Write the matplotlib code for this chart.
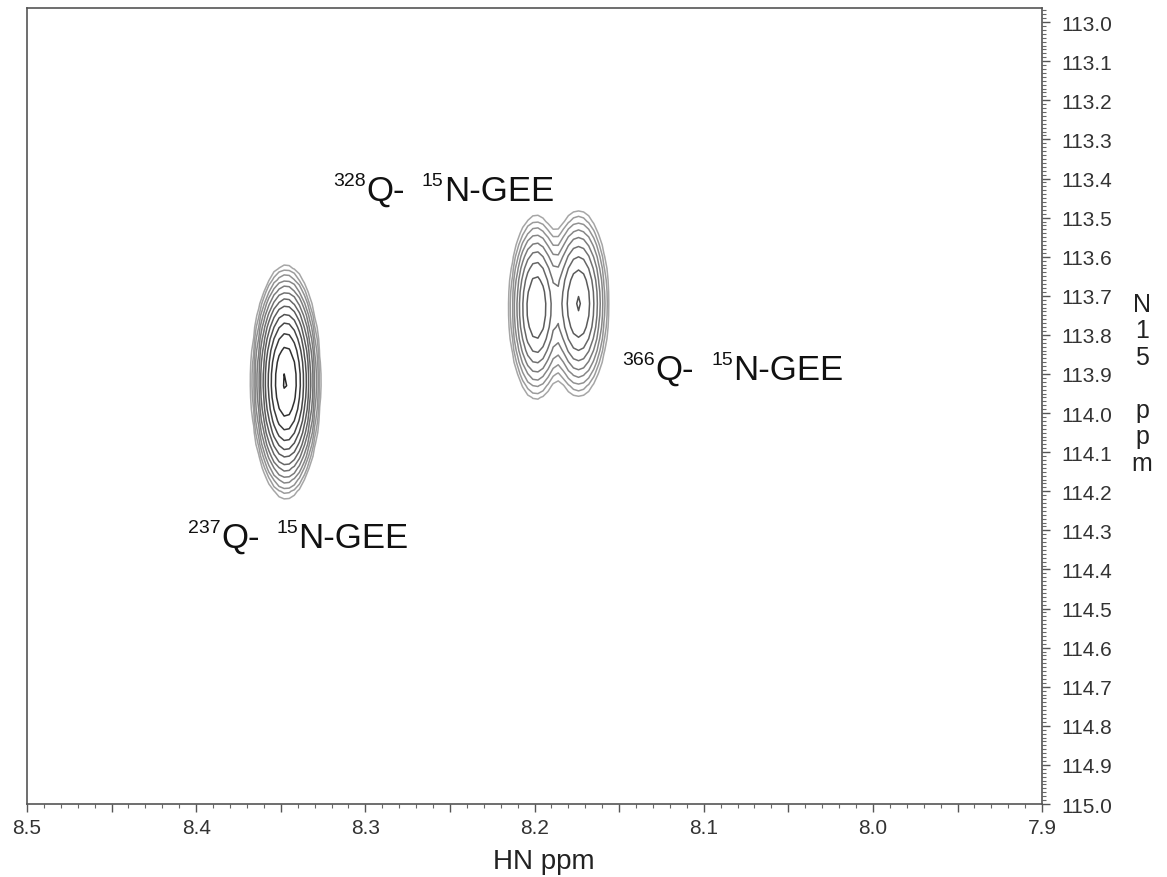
import numpy as np
import matplotlib
matplotlib.use("Agg")
import matplotlib.pyplot as plt
from matplotlib.ticker import MultipleLocator, FuncFormatter

plt.rcParams['font.family'] = ['Liberation Sans', 'DejaVu Sans']

# peak list: HN ppm, N15 ppm, height, HN width, N15 width
peak_hn = [8.347, 8.199, 8.174]
peak_n15 = [113.92, 113.73, 113.72]
peak_height = [170.0, 29.0, 31.0]
peak_wx = [0.0064, 0.0062, 0.0068]
peak_wy = [0.0925, 0.09, 0.09]

# contour levels (geometric, factor 1.53)
levels = [1.0, 1.53, 2.34, 3.58, 5.48, 8.39, 12.8, 19.6, 30.0, 45.9, 70.2, 107.0, 164.0]

# labels: isotope number of Q and where the label starts
label_mass = ["328", "366", "237"]
label_hn = [8.319, 8.148, 8.405]
label_n15 = [113.383, 113.841, 114.271]

hn = np.arange(8.45, 8.10, -0.003)
n15 = np.arange(113.3, 114.45, 0.03)
X, Y = np.meshgrid(hn, n15)
Z = np.zeros_like(X)
for cx, cy, a, wx, wy in zip(peak_hn, peak_n15, peak_height, peak_wx, peak_wy):
    Z += a * np.exp(-((X - cx) ** 2) / (2 * wx ** 2) - ((Y - cy) ** 2) / (2 * wy ** 2))

fig = plt.figure(figsize=(11.67, 8.78), dpi=100)
ax = fig.add_axes([0.0231, 0.0831, 0.8699, 0.9066])

greys = [plt.cm.gray(v) for v in np.linspace(0.65, 0.15, len(levels))]
ax.contour(X, Y, Z, levels=levels, colors=greys, linewidths=1.1)


def iso_label(x, y, mass):
    # superscripts smaller than the main text, as in the original figure
    a = ax.text(x, y, mass, fontsize=14, ha='left', va='top', color='#111111')
    b = ax.annotate("Q-", xy=(1, 1), xycoords=a, xytext=(0.5, -1.5),
                    textcoords='offset points', fontsize=25, ha='left',
                    va='top', color='#111111')
    c = ax.annotate("15", xy=(1, 1), xycoords=b, xytext=(12, 1.5),
                    textcoords='offset points', fontsize=14, ha='left',
                    va='top', color='#111111')
    ax.annotate("N-GEE", xy=(1, 1), xycoords=c, xytext=(0.5, -1.5),
                textcoords='offset points', fontsize=25, ha='left',
                va='top', color='#111111')


for m, x, y in zip(label_mass, label_hn, label_n15):
    iso_label(x, y, m)

ax.set_xlim(8.5, 7.9)
ax.set_ylim(115.0, 112.964)

ax.yaxis.tick_right()
ax.xaxis.set_major_locator(MultipleLocator(0.05))
ax.xaxis.set_minor_locator(MultipleLocator(0.01))
ax.xaxis.set_major_formatter(FuncFormatter(
    lambda v, p: f"{v:.1f}" if abs(round(v * 10) - v * 10) < 1e-6 else ""))
ax.yaxis.set_major_locator(MultipleLocator(0.1))
ax.yaxis.set_minor_locator(MultipleLocator(0.01))
ax.yaxis.set_major_formatter(FuncFormatter(lambda v, p: f"{v:.1f}"))

ax.tick_params(which='major', length=6, width=1, color='#555555',
               labelsize=15, labelcolor='#333333', pad=4)
ax.tick_params(axis='y', which='major', pad=8)
ax.tick_params(which='minor', length=3, width=0.8, color='#666666')
for s in ax.spines.values():
    s.set_color('#555555')
    s.set_linewidth(1.2)

ax.set_xlabel("HN ppm", fontsize=20, color='#222222', labelpad=8)
ax.xaxis.label.set_x(0.509)

# stacked axis title on the right
for ch, py in zip(["N", "1", "5", "p", "p", "m"], [312, 338.5, 365, 418, 444.5, 471]):
    fig.text(0.9786, 1 - py / 878, ch, fontsize=18, ha='center',
             va='baseline', color='#222222')

fig.savefig("out.png", dpi=100)
